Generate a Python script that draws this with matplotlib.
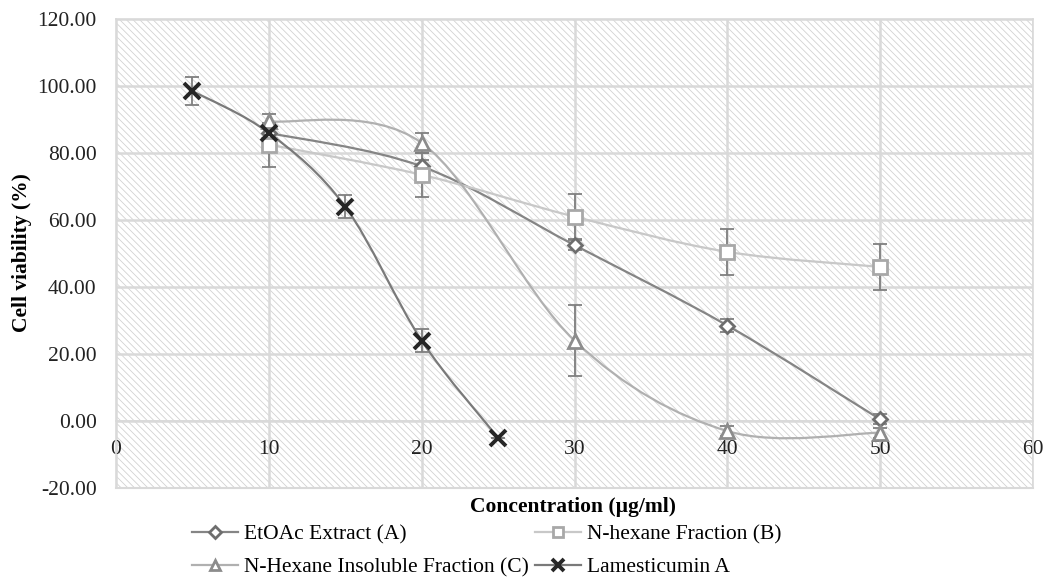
import numpy as np
import matplotlib
matplotlib.use("Agg")
import matplotlib.pyplot as plt
from matplotlib.path import Path
from matplotlib.patches import PathPatch
from matplotlib.lines import Line2D

# ---- data ----
x_etoac = [10, 20, 30, 40, 50]
y_etoac = [86.0, 76.0, 52.5, 28.5, 0.5]
e_etoac = [1.5, 2.0, 1.5, 2.0, 1.5]

x_hex = [10, 20, 30, 40, 50]
y_hex = [82.5, 73.5, 61.0, 50.5, 46.0]
e_hex = [6.6, 6.6, 6.8, 6.8, 6.8]

x_ins = [10, 20, 30, 40, 50]
y_ins = [89.5, 83.0, 24.0, -3.0, -3.5]
e_ins = [2.0, 3.0, 10.5, 1.5, 1.5]

x_lam = [5, 10, 15, 20, 25]
y_lam = [98.5, 86.0, 64.0, 24.0, -5.0]
e_lam = [4.2, 2.0, 3.5, 3.5, 0.0]

labels = ["EtOAc Extract (A)", "N-hexane Fraction (B)",
          "N-Hexane Insoluble Fraction (C)", "Lamesticumin A"]
yticks = [-20, 0, 20, 40, 60, 80, 100, 120]
xticks = [0, 10, 20, 30, 40, 50, 60]

FS = 15.5
plt.rcParams['font.family'] = ['Liberation Serif', 'DejaVu Serif']
plt.rcParams['hatch.linewidth'] = 0.6
plt.rcParams['hatch.color'] = '#d2d2d2'

fig = plt.figure(figsize=(10.43, 5.86), dpi=100)
ax = fig.add_axes([116/1043, 1-488/586, (1033-116)/1043, (488-19)/586])

ax.set_xlim(0, 60)
ax.set_ylim(-20, 120)
ax.patch.set_facecolor('white')
ax.patch.set_hatch('\\\\\\\\\\')
ax.patch.set_edgecolor('#d2d2d2')

ax.set_yticks(yticks)
ax.set_yticklabels([f"{v:.2f}" for v in yticks])
ax.set_xticks(xticks)
ax.set_xticklabels([str(v) for v in xticks])
ax.grid(True, color='#d9d9d9', linewidth=1.8, zorder=0)
ax.set_axisbelow(True)
ax.tick_params(length=0, labelsize=FS, colors='#222222')
ax.tick_params(axis='y', pad=14)
ax.tick_params(axis='x', pad=14)
for s in ax.spines.values():
    s.set_color('#d9d9d9')
    s.set_linewidth(1.2)
ax.spines['bottom'].set_position(('data', 0))
ax.axhline(-20, color='#d9d9d9', linewidth=1.5, clip_on=False)


def smooth_path(xs, ys):
    p = np.column_stack([xs, ys]).astype(float)
    n = len(p)
    verts = [p[0]]
    codes = [Path.MOVETO]
    for i in range(n - 1):
        p0 = p[i - 1] if i > 0 else p[i]
        p1 = p[i]
        p2 = p[i + 1]
        p3 = p[i + 2] if i + 2 < n else p[i + 1]
        c1 = p1 + (p2 - p0) / 6.0
        c2 = p2 - (p3 - p1) / 6.0
        verts += [c1, c2, p2]
        codes += [Path.CURVE4] * 3
    return Path(verts, codes)


series = [
    (x_etoac, y_etoac, e_etoac, '#858585', 'D', '#6e6e6e', 'white', 7.5, 2.0),
    (x_hex, y_hex, e_hex, '#c8c8c8', 's', '#a8a8a8', 'white', 10.5, 2.0),
    (x_ins, y_ins, e_ins, '#b0b0b0', '^', '#8c8c8c', 'white', 10.5, 2.0),
    (x_lam, y_lam, e_lam, '#7a7a7a', 'x', '#262626', '#262626', 11, 2.8),
]

handles = []
for (xs, ys, es, lc, mk, mec, mfc, ms, mew), lab in zip(series, labels):
    ax.add_patch(PathPatch(smooth_path(xs, ys), facecolor='none',
                           edgecolor=lc, linewidth=1.6, zorder=3))
    ax.errorbar(xs, ys, yerr=es, fmt='none', ecolor='#7f7f7f',
                elinewidth=1.3, capsize=5, capthick=1.3, zorder=4)
    ax.plot(xs, ys, linestyle='none', marker=mk, markersize=ms,
            markeredgecolor=mec, markerfacecolor=mfc, markeredgewidth=mew,
            zorder=5)
    handles.append(Line2D([], [], color=lc, linewidth=1.6, marker=mk,
                          markersize=ms * 0.75, markeredgecolor=mec,
                          markerfacecolor=mfc, markeredgewidth=mew))

fig.text(22/1043, 1-253/586, 'Cell viability (%)', rotation=90, fontsize=FS,
         fontweight='bold', ha='center', va='center')
fig.text(573/1043, 1-507/586, 'Concentration (µg/ml)', fontsize=FS,
         fontweight='bold', ha='center', va='center')

order = [0, 2, 1, 3]
fig.legend([handles[i] for i in order], [labels[i] for i in order],
           ncol=2, loc='upper left',
           bbox_to_anchor=(192/1043, 1-524/586), frameon=False,
           fontsize=FS, handlelength=2.15, handletextpad=0.25,
           columnspacing=0.3, labelspacing=0.6, borderaxespad=0,
           borderpad=0)

fig.savefig('out.png', dpi=100)
